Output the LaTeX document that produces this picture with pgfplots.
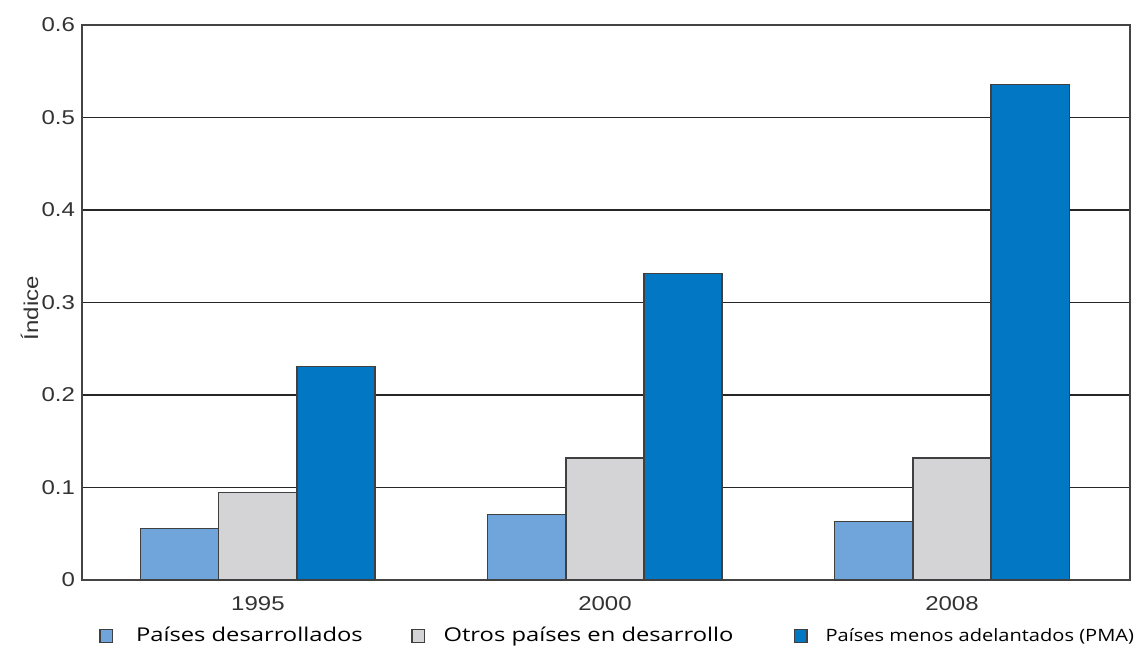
\documentclass[border=0pt]{standalone}
\usepackage{pgfplots}
\pgfplotsset{compat=1.18}
\usepackage{fontspec}
\setmainfont{Liberation Sans}[FakeStretch=1.2]
\newfontfamily\legfont{Open Sans}[FakeStretch=1.25]
\newfontfamily\legfontc{Open Sans}[FakeStretch=1.18]

\definecolor{lightbar}{HTML}{6FA5DA}
\definecolor{greybar}{HTML}{D4D4D6}
\definecolor{darkbar}{HTML}{0277C4}
\definecolor{framecol}{HTML}{444444}
\definecolor{labcol}{HTML}{333333}

% small square swatch for each legend entry
\pgfplotsset{
  squareleg/.style={legend image code/.code={%
    \draw[##1, line width=0.6pt] (0pt,-3.4pt) rectangle (6.2pt,3.4pt);}},
}

\begin{document}
\begin{tikzpicture}
\begin{axis}[
  scale only axis,
  width=524pt, height=277.5pt,
  xmin=-0.507, xmax=2.513,
  ymin=0, ymax=0.6,
  xtick={0,1,2},
  xticklabels={1995,2000,2008},
  ytick={0,0.1,...,0.6},
  yticklabels={0,0.1,0.2,0.3,0.4,0.5,0.6},
  major tick length=0pt,
  axis line style={framecol, line width=1.1pt},
  ymajorgrids,
  grid style={black!85, line width=0.8pt},
  tick label style={labcol},
  yticklabel style={font=\fontsize{10}{12}\selectfont},
  xticklabel style={font=\fontsize{10}{12}\selectfont, yshift=-4.5pt},
  ylabel={Índice},
  ylabel style={at={(axis description cs:-0.05,0.49)}, anchor=center,
    font=\fontsize{10}{12}\selectfont, labcol},
  ybar, bar width=0.225,
  legend columns=3,
  legend style={draw=none, fill=none, inner sep=0pt,
    nodes={inner sep=0pt},
    at={(axis description cs:0,-0.1009)}, anchor=west, xshift=8.5pt,
    /tikz/every even column/.append style={column sep=0pt}},
  legend cell align=left,
]
\addplot[squareleg, fill=lightbar, draw=black!75, line width=0.6pt, bar shift=-0.225]
  coordinates {(0,0.056) (1,0.071) (2,0.063)};
\addlegendentry{\makebox[149.2pt][l]{\hspace{11.5pt}\legfont\fontsize{9.5}{11}\selectfont Países desarrollados}}
\addplot[squareleg, fill=greybar, draw=black!75, line width=0.6pt, bar shift=0]
  coordinates {(0,0.095) (1,0.132) (2,0.132)};
\addlegendentry{\makebox[184.5pt][l]{\hspace{9.3pt}\legfont\fontsize{9.5}{11}\selectfont Otros países en desarrollo}}
\addplot[squareleg, fill=darkbar, draw=black!75, line width=0.6pt, bar shift=0.225]
  coordinates {(0,0.231) (1,0.331) (2,0.536)};
\addlegendentry{\hspace{9pt}\legfontc\fontsize{8.5}{10}\selectfont Países menos adelantados (PMA)}
\end{axis}
\path ([xshift=-41pt,yshift=-34pt]current axis.south west)
  rectangle ([xshift=4.5pt,yshift=12.5pt]current axis.north east);
\end{tikzpicture}
\end{document}
